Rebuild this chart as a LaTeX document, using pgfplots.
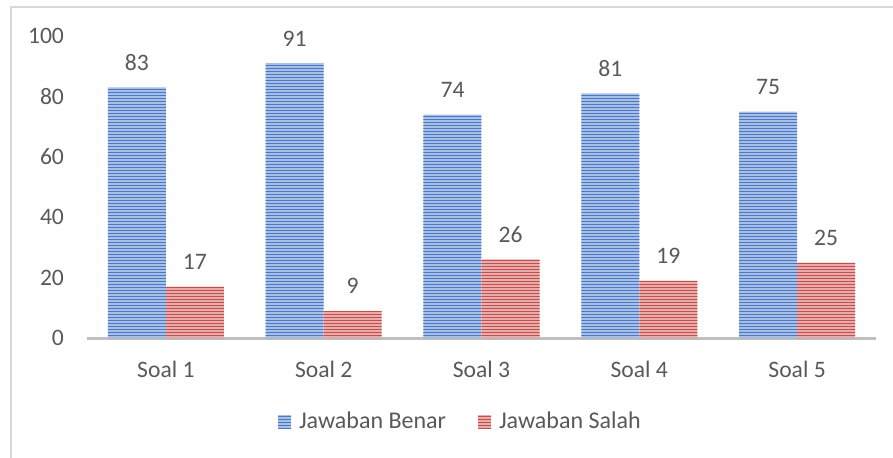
\documentclass[border=0pt]{standalone}
\usepackage{pgfplots}
\pgfplotsset{compat=1.18}
\usepackage{fontspec}
\setmainfont{Carlito}
\usetikzlibrary{patterns}
\pgfdeclarepatternformonly{hstripes}{\pgfqpoint{-1pt}{0pt}}{\pgfqpoint{400pt}{1.5pt}}{\pgfqpoint{400pt}{1.5pt}}{%
  \pgfsetlinewidth{0.75pt}%
  \pgfpathmoveto{\pgfqpoint{-1pt}{0.75pt}}%
  \pgfpathlineto{\pgfqpoint{401pt}{0.75pt}}%
  \pgfusepath{stroke}}
\definecolor{txt}{HTML}{595959}
\definecolor{blueFill}{HTML}{A8BFE6}
\definecolor{blueLine}{HTML}{4A78C4}
\definecolor{redFill}{HTML}{E9ACAB}
\definecolor{redLine}{HTML}{C0504D}
\definecolor{axisgray}{HTML}{BFBFBF}
\definecolor{framegray}{HTML}{D9D9D9}
\begin{document}
\begin{tikzpicture}
\path[use as bounding box] (-43.5pt,-59.5pt) rectangle (403pt,169pt);
\draw[framegray, line width=0.9pt] (-38pt,-62pt) -- (-38pt,165.5pt) -- (406pt,165.5pt);
\begin{axis}[
  at={(0,0)}, anchor=south west,
  scale only axis,
  width=394.5pt, height=151pt,
  ybar=0pt, bar width=29pt,
  xmin=-0.5, xmax=4.5, ymin=0, ymax=100,
  xtick={0,1,2,3,4},
  xticklabels={Soal 1,Soal 2,Soal 3,Soal 4,Soal 5},
  ytick={0,20,40,60,80,100},
  major tick length=0pt,
  axis y line*=left,
  axis x line*=bottom,
  y axis line style={draw=none},
  x axis line style={draw=axisgray, line width=1.5pt},
  tick label style={font=\fontsize{11.8}{14}\selectfont, text=txt},
  /pgf/number format/assume math mode=true,
  yticklabel style={xshift=-8pt},
  xticklabel style={yshift=-8pt},
  nodes near coords,
  nodes near coords style={font=\fontsize{11.8}{14}\selectfont, text=txt, yshift=5pt},
  legend columns=2,
  legend style={draw=none, fill=none, at={(0.4745,-0.278)}, anchor=center,
    font=\fontsize{12}{14}\selectfont, text=txt,
    /tikz/every odd column/.append style={column sep=2pt},
    /tikz/every even column/.append style={column sep=14pt}},
  legend image code/.code={\path[#1] (0pt,-3.5pt) rectangle (6.5pt,3.5pt);},
  clip=false,
]
\addplot[fill=blueFill, draw=none, postaction={pattern=hstripes, pattern color=blueLine}]
  coordinates {(0,83) (1,91) (2,74) (3,81) (4,75)};
\addplot[fill=redFill, draw=none, postaction={pattern=hstripes, pattern color=redLine}]
  coordinates {(0,17) (1,9) (2,26) (3,19) (4,25)};
\legend{Jawaban Benar, Jawaban Salah}
\end{axis}
\end{tikzpicture}
\end{document}
